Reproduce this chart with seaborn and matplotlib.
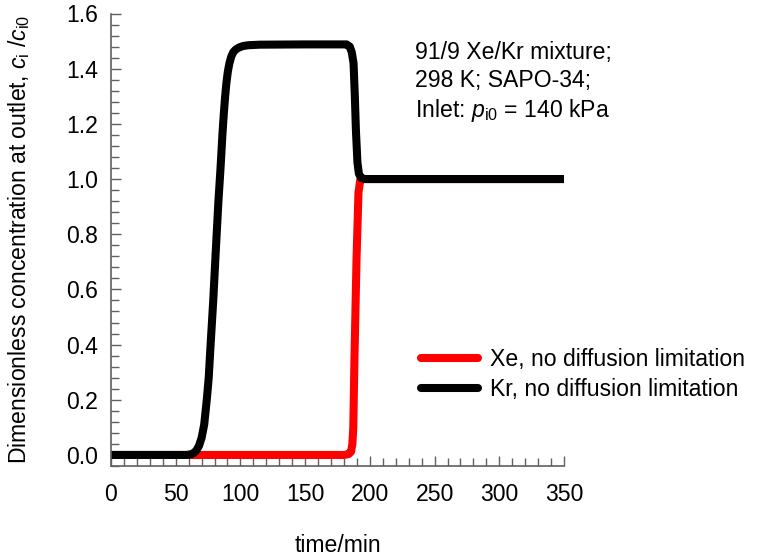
import numpy as np
import pandas as pd
import seaborn as sns
import matplotlib.pyplot as plt
from matplotlib.ticker import MultipleLocator

# Data (time in min, c_i/c_i0)
kr_time = [0, 58, 60, 62, 64, 66, 68, 70, 72, 74, 75.5, 76.7, 79, 81, 83, 84.5,
           86.2, 87.2, 88.2, 89.2, 90.3, 91.5, 93, 94.5, 96.5, 99, 102, 106,
           115, 150, 182, 184.5, 186, 187.4, 188.4, 189.2, 190.4, 191.5, 193,
           196, 200, 350]
kr_conc = [0, 0, 0.001, 0.003, 0.007, 0.017, 0.033, 0.062, 0.11, 0.2, 0.28,
           0.38, 0.56, 0.744, 0.92, 1.03, 1.17, 1.24, 1.3, 1.35, 1.39, 1.42,
           1.445, 1.46, 1.47, 1.477, 1.482, 1.485, 1.487, 1.488, 1.488, 1.48,
           1.46, 1.42, 1.30, 1.18, 1.06, 1.02, 1.005, 1.0, 1.0, 1.0]

xe_time = [0, 180, 183.5, 185.5, 186.5, 187.2, 188.1, 189.7, 191.2, 192.5,
           195, 350]
xe_conc = [0, 0, 0.003, 0.012, 0.04, 0.1, 0.35, 0.71, 0.95, 0.995, 1.0, 1.0]

labels = ["Xe, no diffusion limitation", "Kr, no diffusion limitation"]
colors = ["#ff0000", "#000000"]

sns.set_style("white")
plt.rcParams["font.family"] = ["Liberation Sans", "DejaVu Sans"]
plt.rcParams["mathtext.fontset"] = "custom"
plt.rcParams["mathtext.rm"] = "Liberation Sans"
plt.rcParams["mathtext.it"] = "Liberation Sans:italic"
plt.rcParams["text.color"] = "black"
plt.rcParams["axes.labelcolor"] = "black"

FS = 16.6
GREY = "#606060"

fig = plt.figure(figsize=(7.59, 5.58), dpi=100)
ax = fig.add_axes([111 / 759, 1 - 466 / 558, 453 / 759, 452.5 / 558])

xe = pd.DataFrame({"time": xe_time, "conc": xe_conc})
kr = pd.DataFrame({"time": kr_time, "conc": kr_conc})

sns.lineplot(data=xe, x="time", y="conc", ax=ax, color=colors[0], lw=5.8,
             label=labels[0], estimator=None, solid_capstyle="round",
             solid_joinstyle="round")
sns.lineplot(data=kr, x="time", y="conc", ax=ax, color=colors[1], lw=5.8,
             label=labels[1], estimator=None, solid_capstyle="round",
             solid_joinstyle="round")

ax.set_xlim(0, 350)
ax.set_ylim(-0.04, 1.6)
ax.xaxis.set_major_locator(MultipleLocator(50))
ax.xaxis.set_minor_locator(MultipleLocator(10))
ax.yaxis.set_minor_locator(MultipleLocator(0.04))
ax.set_yticks(np.arange(0, 1.61, 0.2))
ax.set_yticklabels([f"{v:.1f}" for v in np.arange(0, 1.61, 0.2)])

for side in ["top", "right"]:
    ax.spines[side].set_visible(False)
for side in ["left", "bottom"]:
    ax.spines[side].set_color(GREY)
    ax.spines[side].set_linewidth(1.2)

ax.tick_params(which="both", direction="in", color=GREY, width=1,
               bottom=True, left=True, labelsize=FS, labelcolor="black")
ax.tick_params(which="major", length=7)
ax.tick_params(which="minor", length=5.5)
ax.tick_params(axis="x", pad=12)
ax.tick_params(axis="y", pad=9)

ax.set_xlabel("time/min", fontsize=FS)
ax.set_ylabel(r"Dimensionless concentration at outlet, $c_\mathrm{i}$ /$c_\mathrm{i0}$",
              fontsize=FS)
ax.xaxis.set_label_coords(0.5, -0.15)
ax.yaxis.set_label_coords(-0.175, 0.5)

ax.text(235, 1.5, "91/9 Xe/Kr mixture;\n298 K; SAPO-34;\n"
        r"Inlet: $p_\mathrm{i0}$ = 140 kPa",
        fontsize=FS, va="top", ha="left", linespacing=1.25)

leg = ax.legend(loc="center left", bbox_to_anchor=(0.684, 0.203),
                frameon=False, fontsize=FS, handlelength=2.5,
                handletextpad=0.5, labelspacing=0.3, borderpad=0,
                borderaxespad=0)

fig.savefig("out.png", dpi=100)
